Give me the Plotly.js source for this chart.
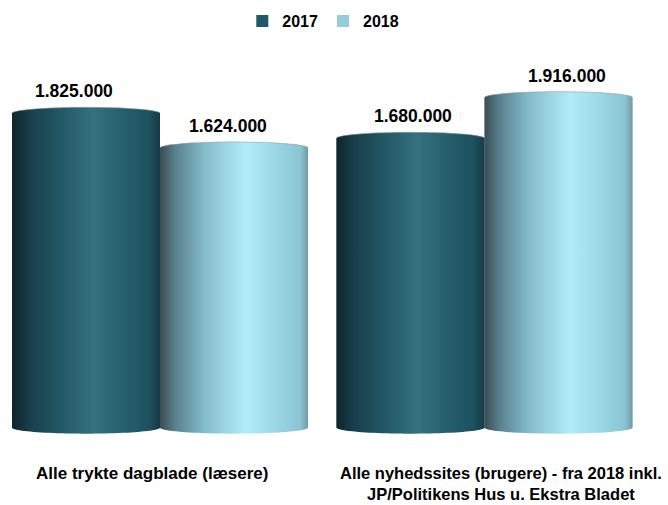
<!DOCTYPE html>
<html>
<head>
<meta charset="utf-8">
<script src="https://cdn.plot.ly/plotly-3.0.1.min.js"></script>
<style>html,body{margin:0;padding:0;background:#fff}#chart{width:668px;height:505px}</style>
</head>
<body>
<div id="chart"></div>
<script>
// ---- data ----
const categories = ["Alle trykte dagblade (læsere)", "Alle nyhedssites (brugere) - fra 2018 inkl.<br>JP/Politikens Hus u. Ekstra Bladet"];
const seriesNames = ["2017", "2018"];
const values2017 = [1825000, 1680000];
const values2018 = [1624000, 1916000];

// ---- styling / layout constants ----
const W = 668, H = 505;
const PLOT_TOP = 40;            // px
const ZERO_PX = 428;            // px position of value 0
const YMAX = 2250000, YMIN = -60000;
const PXPU = (ZERO_PX - PLOT_TOP) / YMAX;
const plotH = (YMAX - YMIN) * PXPU;
const marginB = H - PLOT_TOP - plotH;
const GROUP_PX = 324.5, FIRST_CENTER_PX = 160;
const xr = [-FIRST_CENTER_PX / GROUP_PX, 1 + (W - FIRST_CENTER_PX - GROUP_PX) / GROUP_PX];
const BAR_W = 0.456;             // category units
const HALF = BAR_W / 2;
const ELL = 6 / PXPU;            // ellipse half-height in data units
const legendColors = ["#215968", "#93cddd"];
const gradients = [
  [[0,'#0f252c'],[0.12,'#183f4a'],[0.35,'#245b69'],[0.55,'#35717e'],[0.75,'#255f6c'],[0.92,'#1d5260'],[1,'#153b45']],
  [[0,'#3c4c53'],[0.1,'#58808b'],[0.3,'#84bccb'],[0.58,'#b2ecf9'],[0.8,'#99d5e3'],[0.95,'#8ac4d2'],[1,'#6f9ba6']]
];
const catXShift = [-8, 16];
const catFontSize = [17, 16.5];
const labelXShift = [[-12, 2], [-6, 9]];   // per series, per category (px)
const font = "Liberation Sans, Arial, sans-serif";

const seriesValues = [values2017, values2018];
const offsets = [-HALF, HALF];

function cylinder(cx, v) {
  const xs = [], ys = [];
  const N = 48;
  for (let i = 0; i <= N; i++) { const t = Math.PI - Math.PI * i / N; xs.push(cx + HALF * Math.cos(t)); ys.push(v + ELL * Math.sin(t)); }
  for (let i = 0; i <= N; i++) { const t = -Math.PI * i / N; xs.push(cx + HALF * Math.cos(t)); ys.push(ELL * Math.sin(t)); }
  xs.push(xs[0]); ys.push(ys[0]);
  return {xs, ys};
}
function topRim(cx, v) {
  const xs = [], ys = [];
  const N = 48;
  for (let i = 0; i <= N; i++) { const t = Math.PI - Math.PI * i / N; xs.push(cx + HALF * Math.cos(t)); ys.push(v + ELL * Math.sin(t)); }
  return {xs, ys};
}

const traces = [];
// solid bars (legend carriers; hidden beneath the cylinders)
seriesNames.forEach((name, s) => {
  traces.push({
    type: 'bar', name: name, x: categories.map((c, i) => i), y: seriesValues[s],
    marker: {color: legendColors[s], line: {width: 0}}, hoverinfo: 'skip'
  });
});
// cylinders
seriesNames.forEach((name, s) => {
  seriesValues[s].forEach((v, i) => {
    const c = cylinder(i + offsets[s], v);
    traces.push({
      type: 'scatter', mode: 'none', x: c.xs, y: c.ys, fill: 'toself',
      fillgradient: {type: 'horizontal', colorscale: gradients[s]},
      showlegend: false, hoverinfo: 'skip'
    });
    const r = topRim(i + offsets[s], v);
    traces.push({
      type: 'scatter', mode: 'lines', x: r.xs, y: r.ys,
      line: {color: 'rgba(150,160,165,0.55)', width: 1},
      showlegend: false, hoverinfo: 'skip'
    });
  });
});

const annotations = [];
seriesNames.forEach((name, s) => {
  seriesValues[s].forEach((v, i) => {
    annotations.push({
      x: i + offsets[s], y: v, xref: 'x', yref: 'y', yanchor: 'bottom', yshift: 10, xshift: labelXShift[s][i],
      text: v.toLocaleString('da-DK'), showarrow: false,
      font: {family: font, size: 17.5, color: '#000', weight: 'bold'}
    });
  });
});
categories.forEach((c, i) => {
  annotations.push({
    x: i, y: 0, xref: 'x', yref: 'y', yanchor: 'top', yshift: -34, xshift: catXShift[i],
    text: c, showarrow: false, align: 'center',
    font: {family: font, size: catFontSize[i], color: '#000', weight: 'bold'}
  });
});

const layout = {
  width: W, height: H,
  margin: {l: 0, r: 0, t: PLOT_TOP, b: marginB},
  paper_bgcolor: '#fff', plot_bgcolor: '#fff',
  barmode: 'group', bargap: 1 - 2 * BAR_W, bargroupgap: 0,
  separators: ',.',
  xaxis: {range: xr, showgrid: false, zeroline: false, showticklabels: false, showline: false, fixedrange: true},
  yaxis: {range: [YMIN, YMAX], showgrid: false, zeroline: false, showticklabels: false, showline: false, fixedrange: true},
  showlegend: true,
  legend: {orientation: 'h', x: 0.484, xanchor: 'center', y: 1 + (PLOT_TOP - 21) / plotH, yanchor: 'middle',
           font: {family: font, size: 16, color: '#000', weight: 'bold'}, itemwidth: 30, itemclick: false, itemdoubleclick: false},
  annotations: annotations,
  hovermode: false
};

Plotly.newPlot('chart', traces, layout, {displayModeBar: false, staticPlot: true});
</script>
</body>
</html>
